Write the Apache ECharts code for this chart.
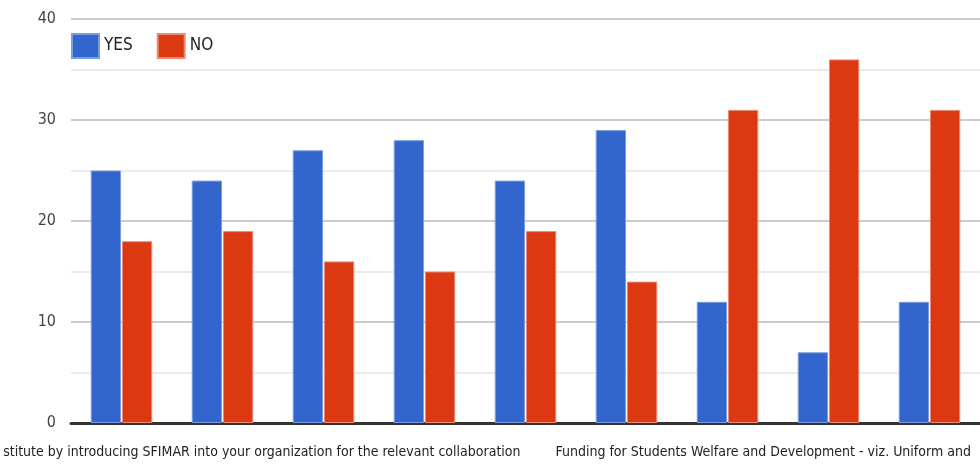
<!DOCTYPE html>
<html><head><meta charset="utf-8">
<script src="https://cdn.jsdelivr.net/npm/echarts@6/dist/echarts.min.js"></script>
<style>html,body{margin:0;padding:0;background:#fff}#c{width:980px;height:466px}</style>
</head><body><div id="c"></div>
<script>
var categories = ['Q1','Q2','Q3','Q4','Q5','Q6','Q7','Q8','Q9'];
var yesValues = [25, 24, 27, 28, 24, 29, 12, 7, 12];
var noValues = [18, 19, 16, 15, 19, 14, 31, 36, 31];
var seriesNames = ['YES', 'NO'];
var label1 = 'stitute by introducing SFIMAR into your organization for the relevant collaboration';
var label2 = 'Funding for Students Welfare and Development - viz. Uniform and';
var label1Index = 4, label2Index = 4;
var FONT = "'DejaVu Sans Condensed', 'Liberation Sans Narrow', Arial, sans-serif";

var chart = echarts.init(document.getElementById('c'));
chart.setOption({
  animation: false,
  textStyle: {fontFamily: FONT},
  grid: {left: 71, right: 0, top: 19, bottom: 43, containLabel: false, outerBoundsMode: 'none'},
  legend: {
    left: 71, top: 33, padding: 0, itemWidth: 27, itemHeight: 24, itemGap: 24,
    icon: 'rect',
    textStyle: {fontSize: 17, color: '#222', fontFamily: FONT},
    data: seriesNames
  },
  xAxis: [{
    type: 'category', data: categories,
    axisLine: {lineStyle: {color: '#333', width: 3}},
    axisTick: {show: false},
    axisLabel: {
      interval: 0, align: 'right', margin: 22, fontSize: 14, color: '#222', fontFamily: FONT, hideOverlap: false,
      formatter: function (v, i) { return i === label1Index ? '{a|' + label1 + '}' : ''; },
      rich: {a: {fontSize: 14, color: '#222', fontFamily: FONT, padding: [0, 5, 0, 0]}}
    }
  }, {
    type: 'category', data: categories, position: 'bottom',
    axisLine: {show: false}, axisTick: {show: false},
    axisLabel: {
      interval: 0, align: 'left', margin: 22, fontSize: 14, color: '#222', fontFamily: FONT, hideOverlap: false,
      formatter: function (v, i) { return i === label2Index ? '{b|' + label2 + '}' : ''; },
      rich: {b: {fontSize: 14, color: '#222', fontFamily: FONT, padding: [0, 0, 0, 30]}}
    }
  }],
  yAxis: {
    type: 'value', min: 0, max: 40, interval: 10,
    axisLine: {show: false}, axisTick: {show: false},
    axisLabel: {fontSize: 16, color: '#444', margin: 15, fontFamily: FONT},
    splitLine: {lineStyle: {color: '#cccccc', width: 2}},
    minorTick: {show: false, splitNumber: 2},
    minorSplitLine: {show: true, lineStyle: {color: '#ebebeb', width: 2}}
  },
  series: [{
    name: seriesNames[0], type: 'bar', data: yesValues, barWidth: '30%', barGap: '3%',
    itemStyle: {color: '#3366cc', borderColor: '#7a9ce0', borderWidth: 1}
  }, {
    name: seriesNames[1], type: 'bar', data: noValues, barWidth: '30%', barGap: '3%',
    itemStyle: {color: '#dc3912', borderColor: '#ee8a74', borderWidth: 1}
  }]
});
</script></body></html>
